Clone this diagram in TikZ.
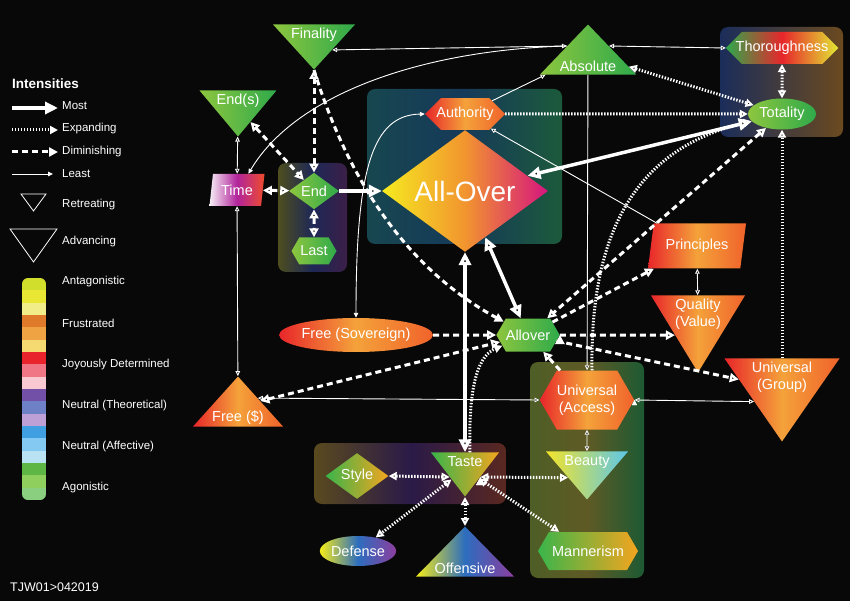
\documentclass[tikz,border=0pt]{standalone}
\usepackage{fontspec}
\setmainfont{Liberation Sans}
\usetikzlibrary{arrows.meta,positioning,shapes.geometric,shapes.misc,shapes.symbols}

\definecolor{bgblack}{HTML}{080808}
\definecolor{grnL}{HTML}{8DC63F}
\definecolor{grnD}{HTML}{2FAA4A}
\definecolor{redL}{HTML}{E8262A}
\definecolor{orgM}{HTML}{F4A23A}
\definecolor{orgR}{HTML}{F0622B}
\definecolor{allL}{HTML}{F5EA1F}
\definecolor{allM}{HTML}{F2952F}
\definecolor{allR}{HTML}{D5157E}
\definecolor{timeL}{HTML}{F6EEF6}
\definecolor{timeM}{HTML}{B1249B}
\definecolor{timeR}{HTML}{EF4B2C}
\definecolor{thorL}{HTML}{2EA94A}
\definecolor{thorM}{HTML}{E7262B}
\definecolor{thorR}{HTML}{E3E734}
\definecolor{beaL}{HTML}{F3E42A}
\definecolor{beaR}{HTML}{5CC7E9}
\definecolor{tasL}{HTML}{3AB54A}
\definecolor{tasR}{HTML}{F3A51F}
\definecolor{defL}{HTML}{F5EC1B}
\definecolor{defM}{HTML}{2C6DBE}
\definecolor{defR}{HTML}{8D3E9F}
% group boxes
\definecolor{bxEndL}{HTML}{4E4E1E}
\definecolor{bxEndM}{HTML}{1E2857}
\definecolor{bxEndR}{HTML}{3B1F47}
\definecolor{bxAllL}{HTML}{17464F}
\definecolor{bxAllM}{HTML}{163A5A}
\definecolor{bxAllR}{HTML}{1C5A3B}
\definecolor{bxTotL}{HTML}{1B2D5A}
\definecolor{bxTotR}{HTML}{6B4A1F}
\definecolor{bxTasL}{HTML}{5A4A1E}
\definecolor{bxTasM}{HTML}{2A1A48}
\definecolor{bxTasR}{HTML}{5A2820}
\definecolor{bxUniL}{HTML}{4E5E26}
\definecolor{bxUniM}{HTML}{5F5A25}
\definecolor{bxUniR}{HTML}{1D5A33}
% intensity bar
\definecolor{barA}{HTML}{D2DE2C}
\definecolor{barB}{HTML}{E9E634}
\definecolor{barC}{HTML}{F1EE8A}
\definecolor{barD}{HTML}{DE7A2A}
\definecolor{barE}{HTML}{EFA343}
\definecolor{barF}{HTML}{F5DA72}
\definecolor{barG}{HTML}{E8232B}
\definecolor{barH}{HTML}{F07585}
\definecolor{barI}{HTML}{F8C9D1}
\definecolor{barJ}{HTML}{7250A8}
\definecolor{barK}{HTML}{6E80C6}
\definecolor{barL}{HTML}{BE9FD6}
\definecolor{barM}{HTML}{3F9FE0}
\definecolor{barN}{HTML}{83C9F1}
\definecolor{barO}{HTML}{B9E2F2}
\definecolor{barP}{HTML}{5EB744}
\definecolor{barQ}{HTML}{8ECF5E}
\definecolor{barR}{HTML}{8ACF80}

\newcommand\nodefont{\fontsize{14.5}{17}\selectfont}
\newcommand\legfont{\fontsize{11.5}{14}\selectfont}

\begin{document}
\begin{tikzpicture}[x=1pt, y=-1pt]
    \tikzset{shp/.style= {draw=none, inner sep=0pt
    , text=white, font=\nodefont, align=center
      }
    , lbl/.style= {text=white, font=\nodefont, inner sep=1pt, align=center}
    , leg/.style= {text=white, font=\legfont, inner sep=1pt, anchor=west}
    , tridown/.style= {shp, isosceles triangle, isosceles triangle stretches
    , shape border rotate=-90, anchor=apex}
    , triup/.style= {shp, isosceles triangle, isosceles triangle stretches
    , shape border rotate=90, anchor=apex}
    , hexa/.style= {shp, signal, signal to=west and east, signal pointer angle=120}
    , octa/.style= {shp, chamfered rectangle, chamfered rectangle xsep=8pt
    , chamfered rectangle ysep=9pt}
    , most/.style= {draw=white, line width=3.5pt, >={Triangle[length=13pt,width=12pt]}}
    , expand/.style= {draw=white, line width=3pt, dash pattern=on 1.4pt off 1.6pt
    , >={Triangle[length=8pt,width=8pt]}}
    , dimin/.style= {draw=white, line width=3pt, dash pattern=on 6pt off 4pt
    , >={Triangle[length=9pt,width=9pt]}}
    , least/.style= {draw=white, line width=0.9pt, >={Triangle[length=5pt,width=4.5pt]}}
    }

\fill[bgblack] (0,0) rectangle (850,601);
\useasboundingbox (0,0) rectangle (850,601);

% group boxes
\shade[rounded corners=8pt, left color=bxEndL, right color=bxEndR, middle color=bxEndM]
  (278,163) rectangle (347,272);
\shade[rounded corners=8pt, left color=bxAllL, right color=bxAllR, middle color=bxAllM]
  (367,89) rectangle (562,244);
\shade[rounded corners=8pt, left color=bxTotL, right color=bxTotR]
  (720,27) rectangle (843,137);
\shade[rounded corners=8pt, left color=bxTasL, right color=bxTasR, middle color=bxTasM]
  (314,443) rectangle (506,504);
\shade[rounded corners=8pt, left color=bxUniL, right color=bxUniR, middle color=bxUniM]
  (530,362) rectangle (644,578);

% legend
\node[text=white, font=\bfseries\fontsize{13.5}{16}\selectfont, inner sep=0pt, anchor=west]
  (intens) at (12,84) {Intensities};
\node[leg] (lmost) at (61,106) {Most};
\node[leg] (lexp) at (61,129) {Expanding};
\node[leg] (ldim) at (61,152) {Diminishing};
\node[leg] (lleast) at (61,174) {Least};
\node[leg] (lret) at (61,205) {Retreating};
\node[leg] (ladv) at (61,242) {Advancing};
\coordinate (cmost) at (12,108);
\coordinate (cexp) at (12,130);
\coordinate (cdim) at (12,152);
\coordinate (cleast) at (12,174);
\draw[most,->,shorten >=3pt] (cmost) -- (cmost -| lmost.west);
\draw[expand,->,shorten >=3pt] (cexp) -- (cexp -| lexp.west);
\draw[dimin,->,shorten >=3pt] (cdim) -- (cdim -| ldim.west);
\draw[least,->] (cleast) -- ([xshift=-8pt]cleast -| lleast.west);
\draw[white, line width=0.8pt] (21,194) -- (46,194) -- (33.5,211) -- cycle;
\draw[white, line width=0.8pt] (10,229) -- (57,229) -- (33.5,262) -- cycle;

\begin{scope}
  \clip[rounded corners=6pt] (22,278) rectangle (46,500);
  \foreach \c [count=\i from 0] in {barA,barB,barC,barD,barE,barF,barG,barH,barI,
      barJ,barK,barL,barM,barN,barO,barP,barQ,barR}
    \fill[\c] (22,278+\i*12.33) rectangle (46,278+\i*12.33+12.4);
\end{scope}
\node[leg] (lant) at (61,282) {Antagonistic};
\node[leg] (lfru) at (61,323) {Frustrated};
\node[leg] (ljoy) at (61,365) {Joyously Determined};
\node[leg] (lnth) at (61,406) {Neutral (Theoretical)};
\node[leg] (lnaf) at (61,447) {Neutral (Affective)};
\node[leg] (lago) at (61,488) {Agonistic};
\node[leg, font=\fontsize{12.5}{14}\selectfont] (stamp) at (9,587) {TJW01>042019};

% nodes
\node[tridown, minimum width=82pt, minimum height=45pt, left color=grnL, right color=grnD]
  (finality) at (314,70) {};
\node[lbl, below=3pt of finality.lower side] (finality-t) {Finality};
\node[tridown, minimum width=77pt, minimum height=46pt, left color=grnL, right color=grnD]
  (ends) at (238,137) {};
\node[lbl, below=3pt of ends.lower side] (ends-t) {End(s)};
\node[shp, trapezium, trapezium left angle=72, trapezium right angle=108, trapezium stretches body
  , minimum width=55pt, minimum height=32pt, left color=timeL, right color=timeR, middle color=timeM]
  (time) at (237,190) {Time};
\node[shp, diamond, minimum width=50pt, minimum height=36pt, left color=grnL, right color=grnD]
  (endn) at (314,191) {End};
\node[hexa, minimum width=45pt, minimum height=27pt, left color=grnL, right color=grnD]
  (last) at (314,251) {Last};
\node[octa, minimum width=80pt, minimum height=30pt, left color=redL, right color=orgR, middle color=orgM]
  (authority) at (465,114) {Authority};
\node[shp, diamond, minimum width=166pt, minimum height=96pt, font=\fontsize{28}{32}\selectfont
  , left color=allL, right color=allR, middle color=allM]
  (allover) at (465,191) {All-Over};
\node[triup, minimum width=96pt, minimum height=50pt, left color=grnL, right color=grnD]
  (absolute) at (588,24) {};
\node[lbl, above=2pt of absolute.lower side] (absolute-t) {Absolute};
\node[octa, minimum width=112pt, minimum height=32pt, left color=thorL, right color=thorR, middle color=thorM]
  (thorough) at (782,48) {Thoroughness};
\node[shp, ellipse, minimum width=68pt, minimum height=31pt, left color=grnL, right color=grnD]
  (totality) at (782,114) {Totality};
\node[shp, trapezium, trapezium left angle=67, trapezium right angle=113, trapezium stretches body
  , minimum width=98pt, minimum height=45pt, left color=redL, right color=orgR, middle color=orgM]
  (principles) at (697,246) {Principles};
\node[tridown, minimum width=94pt, minimum height=77pt, left color=redL, right color=orgR, middle color=orgM]
  (quality) at (698,373) {};
\node[lbl, below=3pt of quality.lower side] (quality-t) {Quality\\(Value)};
\node[tridown, minimum width=115pt, minimum height=83pt, left color=redL, right color=orgR, middle color=orgM]
  (ugroup) at (782,442) {};
\node[lbl, below=3pt of ugroup.lower side] (ugroup-t) {Universal\\(Group)};
\node[shp, ellipse, minimum width=131pt, minimum height=34pt, left color=redL, right color=orgR, middle color=orgM]
  (freesov) at (356,335) {Free (Sovereign)};
\node[hexa, minimum width=63pt, minimum height=33pt, left color=grnL, right color=grnD]
  (allhex) at (528,335) {Allover};
\node[triup, minimum width=90pt, minimum height=50pt, left color=redL, right color=orgR, middle color=orgM]
  (freedol) at (238,376) {};
\node[lbl, above=1pt of freedol.lower side] (freedol-t) {Free (\$)};
\node[hexa, minimum width=91pt, minimum height=59pt, left color=redL, right color=orgR, middle color=orgM]
  (uaccess) at (587,400) {Universal\\(Access)};
\node[tridown, minimum width=82pt, minimum height=48pt, left color=beaL, right color=beaR]
  (beauty) at (587,500) {};
\node[lbl, below=3pt of beauty.lower side] (beauty-t) {Beauty};
\node[hexa, minimum width=100pt, minimum height=38pt, left color=tasL, right color=tasR]
  (mannerism) at (588,551) {Mannerism};
\node[tridown, minimum width=68pt, minimum height=44pt, left color=tasL, right color=tasR]
  (taste) at (465,497) {};
\node[lbl, below=3pt of taste.lower side] (taste-t) {Taste};
\node[shp, diamond, minimum width=63pt, minimum height=42pt, left color=tasL, right color=tasR]
  (style) at (357,476) {Style};
\node[shp, ellipse, minimum width=70pt, minimum height=30pt, left color=defL, right color=defR, middle color=defM]
  (defense) at (358,551) {Defense};
\node[triup, minimum width=98pt, minimum height=50pt, left color=defL, right color=defR, middle color=defM]
  (offensive) at (465,526) {};
\node[lbl, above=2pt of offensive.lower side] (offensive-t) {Offensive};

% least
\path[least,<->] (finality.-22) edge (absolute.159)
  (absolute.21) edge (thorough.west)
  (ends) edge (time)
  (time) edge (freedol)
  (freedol.23) edge (uaccess.west)
  (uaccess.east) edge (ugroup.205)
  (principles) edge (quality)
  (uaccess) edge (beauty);
\path[least,->] (authority) edge (absolute)
  (principles) edge (authority)
  (absolute) edge (uaccess);
\draw[least,->] (absolute.159) .. controls (420,50) and (295,95) .. (time.55);
\draw[least,<->] (freesov.north) .. controls (356,170) and (372,115) .. (authority.west);

% diminishing
\path[dimin,<->] (ends) edge (endn)
  (time) edge (endn)
  (finality) edge (endn)
  (endn) edge (last)
  (freedol) edge (allhex)
  (totality) edge (allhex);
\path[dimin,->] (freesov) edge (allhex)
  (allhex.east) edge (quality.210)
  (allhex) edge (ugroup)
  (allhex) edge (principles)
  (uaccess) edge (allhex);
\draw[dimin,->] (finality.apex) .. controls (345,170) and (400,265) .. (allhex);

% most
\path[most,->] (endn) edge (allover);
\path[most,<->] (totality) edge (allover)
  (taste) edge (allover)
  (allhex) edge (allover);

% expanding
\path[expand,<->] (absolute) edge (totality)
  (thorough) edge (totality)
  (style.east) edge (taste.207)
  (taste.333) edge (beauty.201)
  (taste) edge (mannerism)
  (taste) edge (defense)
  (taste) edge (offensive);
\path[expand,->] (authority) edge (totality)
  (ugroup) edge (totality);
\draw[expand,->] ([xshift=5pt]uaccess.north) .. controls (590,240) and (630,150) .. (totality);
\draw[expand,->] ([xshift=5pt]taste.lower side) .. controls (468,380) and (480,355) .. (allhex);
\end{tikzpicture}
\end{document}
